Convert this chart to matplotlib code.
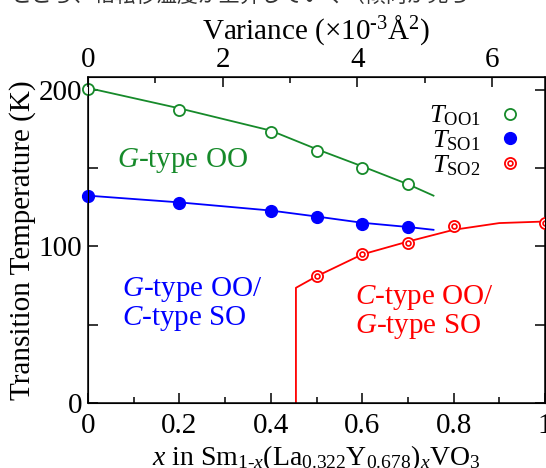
import numpy as np
import matplotlib.pyplot as plt
from matplotlib.ticker import MultipleLocator, FixedLocator

plt.rcParams['font.family'] = ['Liberation Serif', 'Noto Sans CJK JP']
plt.rcParams['mathtext.fontset'] = 'custom'
plt.rcParams['mathtext.rm'] = 'Liberation Serif'
plt.rcParams['mathtext.it'] = 'Liberation Serif:italic'
plt.rcParams['mathtext.bf'] = 'Liberation Serif:bold'

# ---------------- DATI ----------------
x_oo1 = [0.0, 0.2, 0.4, 0.5, 0.6, 0.7]
T_oo1 = [200.6, 187.2, 173.2, 161.0, 150.2, 140.0]
x_so1 = [0.0, 0.2, 0.4, 0.5, 0.6, 0.7]
T_so1 = [132.3, 127.8, 122.7, 118.8, 114.4, 112.5]
x_so2 = [0.5, 0.6, 0.7, 0.8, 1.0]
T_so2 = [81.2, 95.2, 102.2, 113.1, 115.0]

# linee di guida
xl_oo1 = [0.0, 0.2, 0.4, 0.5, 0.6, 0.7, 0.756]
Tl_oo1 = [201.0, 188.0, 173.8, 162.0, 151.0, 139.6, 132.3]
xl_so1 = [0.0, 0.2, 0.4, 0.5, 0.6, 0.7, 0.756]
Tl_so1 = [132.3, 128.0, 122.8, 119.0, 115.0, 112.3, 110.5]
xl_so2 = [0.455, 0.455, 0.5, 0.6, 0.7, 0.8, 0.9, 1.0]
Tl_so2 = [0.0, 73.5, 80.8, 94.8, 103.0, 110.5, 114.8, 115.8]

x_ticks = [0, 0.2, 0.4, 0.6, 0.8, 1.0]
x_ticklabels = ['0', '0.2', '0.4', '0.6', '0.8', '1']
y_ticks = [0, 50, 100, 150, 200]
y_ticklabels = ['0', '', '100', '', '200']
var_ticks = [0, 2, 4, 6]
var_max = 6.79  # varianza a x = 1

green = '#168a2a'
blue = '#0000ff'
red = '#ff0000'
fs = 21

# ---------------- FIGURA ----------------
fig = plt.figure(figsize=(5.46, 4.68), dpi=100)
ax = fig.add_axes([88 / 546, 65 / 468, 457 / 546, 326 / 468])

ax.plot(xl_oo1, Tl_oo1, '-', color=green, lw=1.3)
ax.plot(xl_so1, Tl_so1, '-', color=blue, lw=1.3)
ax.plot(xl_so2, Tl_so2, '-', color=red, lw=1.3)

h1, = ax.plot(x_oo1, T_oo1, 'o', ms=8, mfc='white', mec=green, mew=1.3,
              clip_on=False, zorder=5)
h2, = ax.plot(x_so1, T_so1, 'o', ms=8.5, mfc=blue, mec=blue,
              clip_on=False, zorder=5)
h3a, = ax.plot(x_so2, T_so2, 'o', ms=8, mfc='white', mec=red, mew=1.3,
               clip_on=False, zorder=5)
h3b, = ax.plot(x_so2, T_so2, 'o', ms=3.5, mfc='white', mec=red, mew=1.2,
               clip_on=False, zorder=6)

ax.set_xlim(0, 1.0)
ax.set_ylim(0, 208)

ax.set_xticks(x_ticks, x_ticklabels)
ax.xaxis.set_minor_locator(MultipleLocator(0.1))
ax.set_yticks(y_ticks, y_ticklabels)

ax.tick_params(which='both', direction='in', right=True, width=1.1)
ax.tick_params(axis='x', labelsize=fs, pad=7)
ax.tick_params(axis='y', labelsize=fs, pad=4)
ax.tick_params(which='major', length=7)
ax.tick_params(which='minor', length=4)
for s in ax.spines.values():
    s.set_linewidth(1.1)

ax.set_xlabel(r'$x$ in Sm$_{1\text{-}x}$(La$_{0.322}$Y$_{0.678}$)$_x$VO$_3$',
              fontsize=20, labelpad=3)
ax.set_ylabel('Transition Temperature (K)', fontsize=fs, labelpad=2)

# asse superiore: varianza
ax2 = ax.twiny()
ax2.set_xlim(0, var_max)
ax2.set_xticks(var_ticks)
ax2.xaxis.set_minor_locator(MultipleLocator(1))
ax2.tick_params(which='both', direction='in', labelsize=fs, width=1.1, pad=3)
ax2.tick_params(which='major', length=7)
ax2.tick_params(which='minor', length=4)
ax2.set_xlabel(r'Variance ($\times$10$^{\text{-}3}$Å$^2$)', fontsize=fs,
               labelpad=6)

# ---------------- TESTI ----------------
ax.text(0.063, 155, r'$G$-type OO', color=green, fontsize=fs,
        ha='left', va='center')
ax.text(0.075, 63, '$G$-type OO/\n$C$-type SO', color=blue, fontsize=fs,
        ha='left', va='center', linespacing=1.0)
ax.text(0.585, 58, '$C$-type OO/\n$G$-type SO', color=red, fontsize=fs,
        ha='left', va='center', linespacing=1.0)

ax.legend([h1, h2, (h3a, h3b)],
          [r'$T_{\rm OO1}$', r'$T_{\rm SO1}$', r'$T_{\rm SO2}$'],
          loc='upper right', bbox_to_anchor=(0.975, 0.95), frameon=False,
          markerfirst=False, fontsize=19, labelspacing=0.0,
          handlelength=1.0, handletextpad=0.6, borderaxespad=0)

fig.text(0.02, 1.0 + 4 / 468, 'ところ、相転移温度が上昇していく（傾向が見ら',
         fontsize=15, color='#333333', ha='left', va='center',
         family=['Noto Sans CJK JP', 'DejaVu Sans'])

fig.savefig('out.png', dpi=100)
